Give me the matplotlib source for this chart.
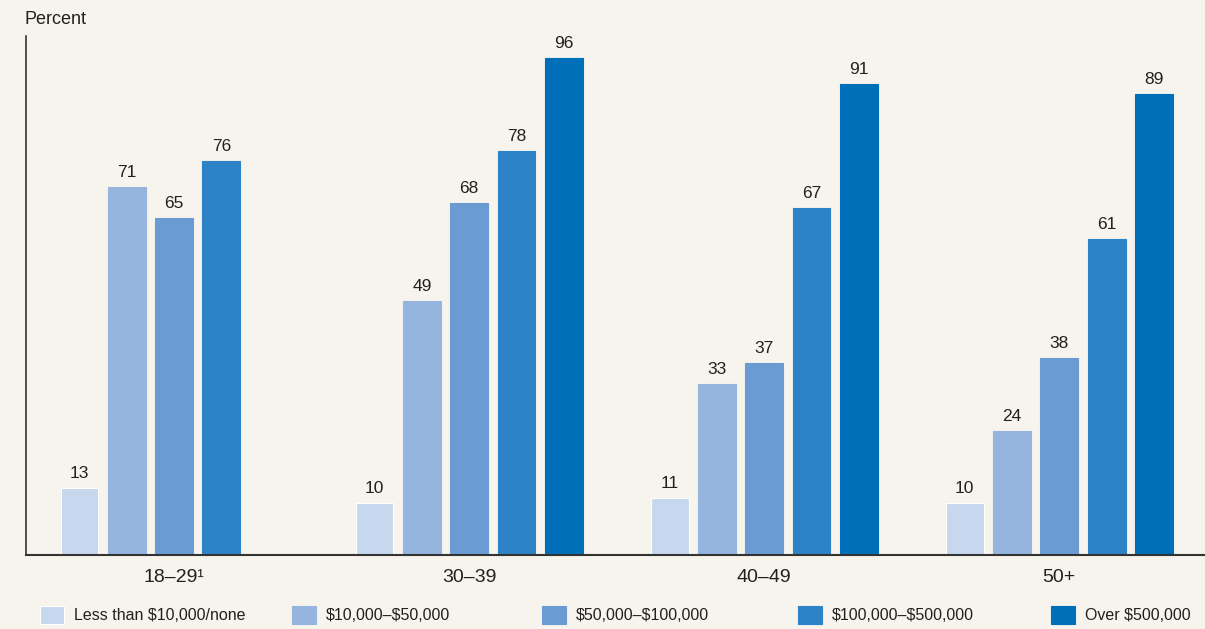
import matplotlib
matplotlib.use('Agg')
import matplotlib.pyplot as plt
import matplotlib.patches as mpatches
import numpy as np

plt.rcParams['font.family'] = ['Liberation Sans', 'DejaVu Sans']

# data
age_groups = ['18–29¹', '30–39', '40–49', '50+']
series = ['Less than \\$10,000/none', '\\$10,000–\\$50,000', '\\$50,000–\\$100,000',
          '\\$100,000–\\$500,000', 'Over \\$500,000']
values = [
    [13, 10, 11, 10],
    [71, 49, 33, 24],
    [65, 68, 37, 38],
    [76, 78, 67, 61],
    [np.nan, 96, 91, 89],
]
colors = ['#c6d7ee', '#95b5df', '#6a9bd3', '#2d83c6', '#006fba']
bg = '#f7f4ee'
txt = '#231f20'

fig = plt.figure(figsize=(12.05, 6.29), dpi=100, facecolor=bg)
ax = fig.add_axes([26 / 1205, 74 / 629, 1 - 26 / 1205, 519 / 629])
ax.set_facecolor(bg)

group_step = 6.24
width = 0.8
x0 = np.arange(len(age_groups)) * group_step

for j, (name, vals) in enumerate(zip(series, values)):
    xs = x0 + j
    ec = 'white' if j == 0 else colors[j]
    ax.bar(xs, vals, width=width, color=colors[j], edgecolor=ec, linewidth=0.8)
    for x, v in zip(xs, vals):
        if np.isnan(v):
            continue
        ax.annotate(f'{v:g}', (x, v), xytext=(0, 5), textcoords='offset points',
                    ha='center', va='bottom', fontsize=12.5, color=txt)

ax.set_xlim(-1.131, 23.8)
ax.set_ylim(0, 100.2)
ax.set_xticks(x0 + 2)
ax.set_xticklabels(age_groups, fontsize=14, color=txt)
ax.tick_params(axis='x', length=0, pad=10)
ax.set_yticks([])
for s in ['top', 'right']:
    ax.spines[s].set_visible(False)
ax.spines['left'].set_color('#333333')
ax.spines['bottom'].set_color('#333333')
ax.spines['left'].set_linewidth(1.2)
ax.spines['bottom'].set_linewidth(1.5)

fig.text(25 / 1205, 1 - 20 / 629, 'Percent', fontsize=13, color=txt, ha='left', va='center')

# legend, one entry per slot
leg_x = [40, 292, 542, 798, 1051]
for j, name in enumerate(series):
    h = mpatches.Patch(facecolor=colors[j], edgecolor='white' if j == 0 else colors[j], linewidth=0.8)
    fig.legend(handles=[h], labels=[name], loc='center left',
               bbox_to_anchor=(leg_x[j] / 1205, 14 / 629), frameon=False,
               fontsize=11.5, handlelength=1.5, handleheight=1.4, handletextpad=0.6,
               borderaxespad=0, borderpad=0, labelcolor=txt)

fig.savefig('out.png', dpi=100, facecolor=bg)
